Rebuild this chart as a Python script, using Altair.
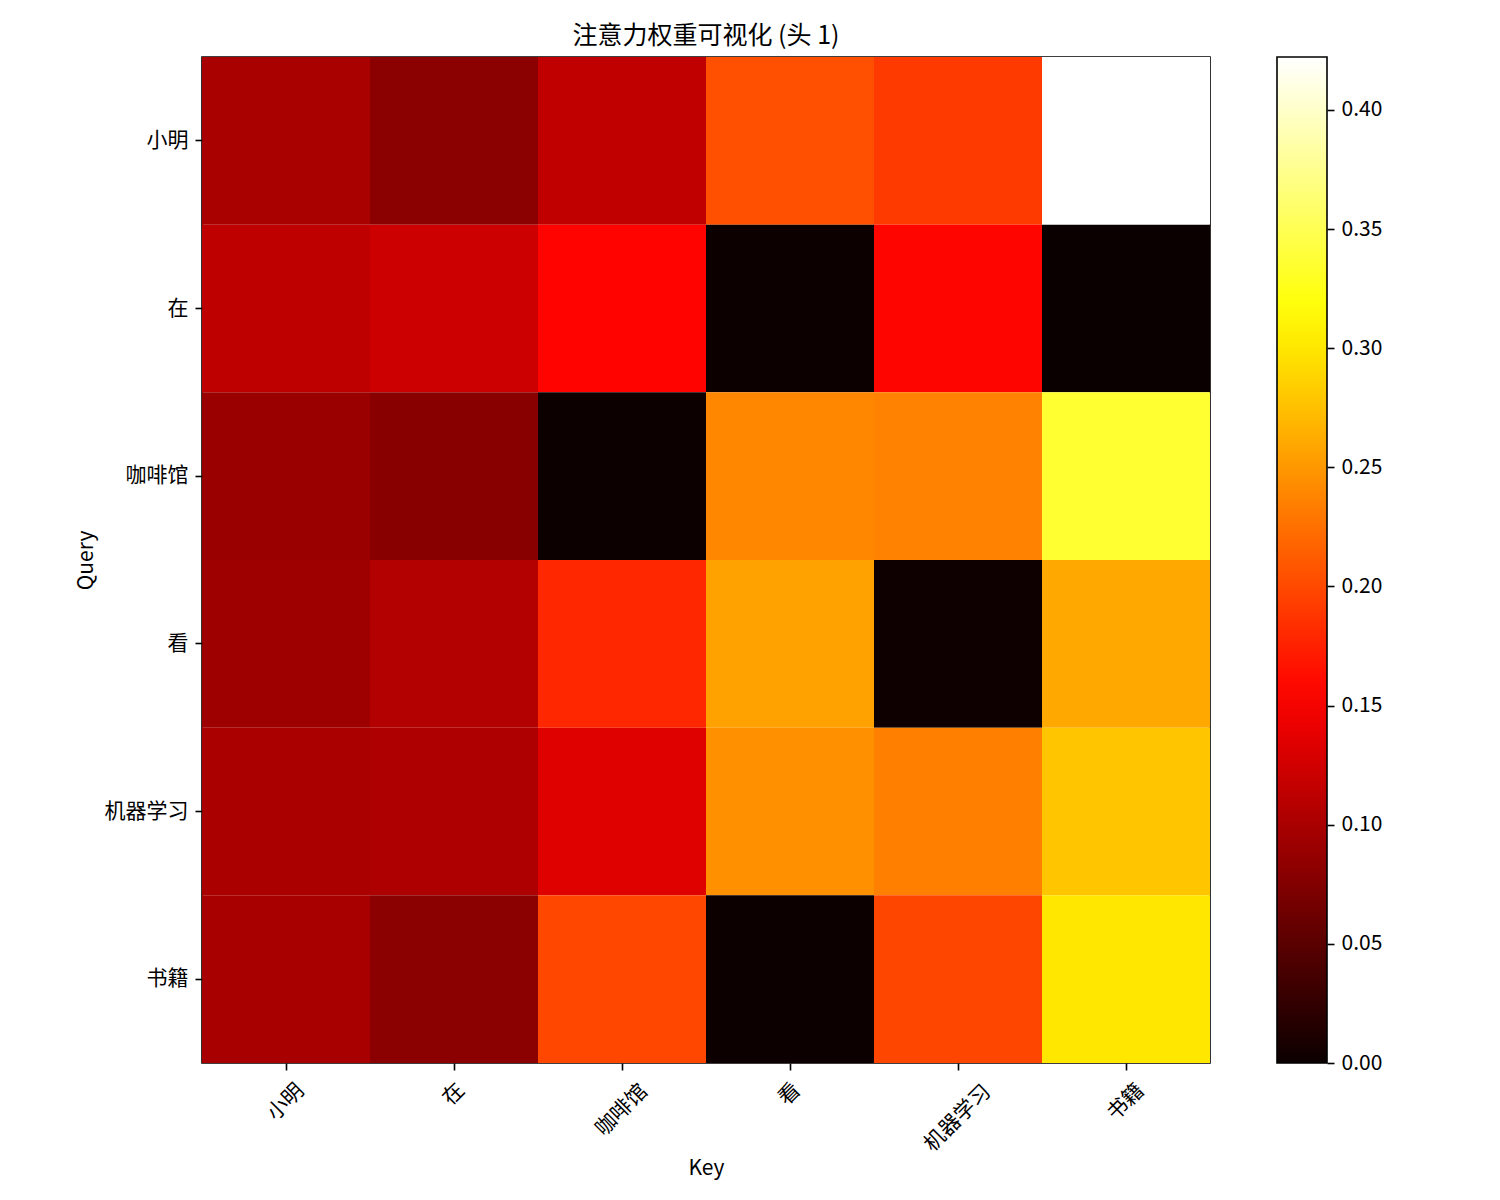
import altair as alt
import pandas as pd

tokens = ["小明", "在", "咖啡馆", "看", "机器学习", "书籍"]

row_xiaoming = [0.100, 0.081, 0.114, 0.204, 0.191, 0.422]
row_zai = [0.113, 0.122, 0.156, 0.001, 0.157, 0.000]
row_kafeiguan = [0.090, 0.079, 0.001, 0.239, 0.237, 0.336]
row_kan = [0.093, 0.106, 0.179, 0.256, 0.002, 0.260]
row_jiqixuexi = [0.101, 0.103, 0.134, 0.245, 0.235, 0.279]
row_shuji = [0.099, 0.081, 0.199, 0.001, 0.198, 0.300]
weights = [row_xiaoming, row_zai, row_kafeiguan, row_kan, row_jiqixuexi, row_shuji]

vmin = 0.0
vmax = 0.4222
cbar_ticks = [0.00, 0.05, 0.10, 0.15, 0.20, 0.25, 0.30, 0.35, 0.40]

records = []
for i, q in enumerate(tokens):
    for j, k in enumerate(tokens):
        records.append({"Query": q, "Key": k, "w": weights[i][j]})
df = pd.DataFrame(records)
ticks_df = pd.DataFrame({"t": cbar_ticks})

FONT = "Noto Sans CJK SC"
W, H = 1008, 1006

# matplotlib "hot" colormap stops
hot_domain = [vmin, vmin + 0.365 * (vmax - vmin), vmin + 0.746 * (vmax - vmin), vmax]
hot_range = ["#0b0000", "#ff0000", "#ffff00", "#ffffff"]

heat = alt.Chart(df).mark_rect().encode(
    x=alt.X("Key:N", sort=tokens, scale=alt.Scale(paddingInner=0, paddingOuter=0),
            axis=alt.Axis(labelAngle=-45, labelAlign="center", labelBaseline="middle",
                          labelPadding={"condition": [
                              {"test": "length(datum.value)==1", "value": 24},
                              {"test": "length(datum.value)==3", "value": 40},
                              {"test": "length(datum.value)==4", "value": 48}],
                              "value": 32},
                          tickSize=7, tickWidth=1.6, tickColor="black",
                          domain=False, labelFontSize=21, labelColor="black",
                          titleFontSize=21, titleFontWeight="normal", titlePadding=3,
                          titleColor="black", title="Key")),
    y=alt.Y("Query:N", sort=tokens, scale=alt.Scale(paddingInner=0, paddingOuter=0),
            axis=alt.Axis(tickSize=7, tickWidth=1.6, tickColor="black", labelPadding=7,
                          domain=False, labelFontSize=21, labelColor="black",
                          titleFontSize=21, titleFontWeight="normal", titlePadding=8,
                          titleColor="black", title="Query")),
    color=alt.Color("w:Q",
                    scale=alt.Scale(domain=hot_domain, range=hot_range, interpolate="rgb",
                                    clamp=True),
                    legend=alt.Legend(orient="none", legendX=1075, legendY=0,
                                      direction="vertical", gradientLength=H,
                                      gradientThickness=50, labelExpr="''", title=None,
                                      gradientStrokeColor="black", gradientStrokeWidth=1.6)),
)

cbar_axis = alt.Chart(ticks_df).mark_rule(opacity=0).encode(
    y=alt.Y("t:Q", scale=alt.Scale(domain=[vmin, vmax], nice=False, zero=False),
            axis=alt.Axis(orient="right", offset=117, values=cbar_ticks, format=".2f",
                          domain=False, grid=False, tickSize=7, tickWidth=1.6,
                          tickColor="black", labelPadding=7, labelFontSize=21,
                          labelColor="black", title=None)),
    x=alt.value(1075),
    x2=alt.value(1125),
)

chart = alt.layer(heat, cbar_axis).resolve_scale(y="independent").properties(
    width=W,
    height=H,
    title=alt.TitleParams("注意力权重可视化 (头 1)", fontSize=25, fontWeight="normal",
                          offset=8, color="black", anchor="middle"),
    autosize=alt.AutoSizeParams(type="none"),
    padding={"left": 194, "top": 49, "right": 270, "bottom": 125},
).configure(font=FONT).configure_view(stroke="black", strokeWidth=1.6)

chart.save("out.html", embed_options={"renderer": "svg", "actions": False})
